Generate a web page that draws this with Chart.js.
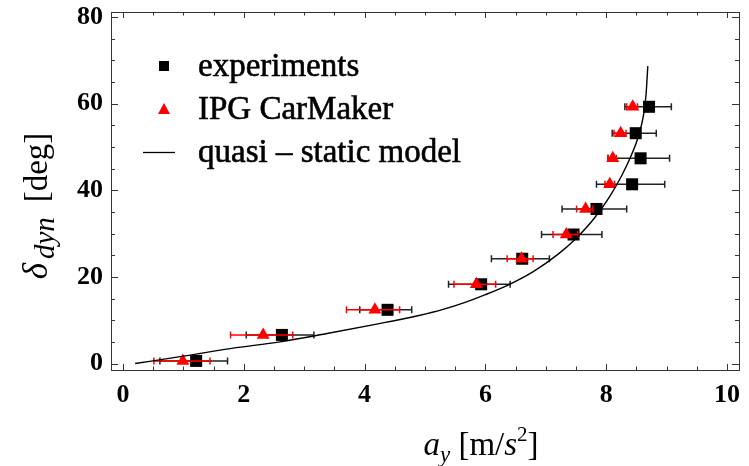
<!doctype html>
<html lang="en">
<head>
<meta charset="utf-8">
<title>Steering angle vs lateral acceleration</title>
<style>
  *{margin:0;padding:0;box-sizing:border-box}
  html,body{width:749px;height:466px;background:#fff;overflow:hidden}
</style>
</head>
<body>
<canvas id="chart" width="749" height="466"></canvas>
<script src="https://cdn.jsdelivr.net/npm/chart.js"></script>
<script>
// steering angle levels (deg), shared by both measured series
const deltaY = [0.6, 6.6, 12.4, 18.3, 24.2, 29.8, 35.7, 41.4, 47.4, 53.2, 59.3];

// experiments: a_y and its horizontal spread
const expX  = [1.21, 2.63, 4.38, 5.93, 6.61, 7.46, 7.84, 8.43, 8.57, 8.49, 8.71];
const expLo = [0.61, 2.04, 3.92, 5.39, 6.10, 6.93, 7.27, 7.84, 8.03, 8.10, 8.31];
const expHi = [1.73, 3.16, 4.78, 6.41, 7.06, 7.93, 8.34, 8.97, 9.05, 8.83, 9.08];

// IPG CarMaker
const ipgX  = [0.99, 2.32, 4.17, 5.85, 6.60, 7.34, 7.66, 8.06, 8.11, 8.24, 8.44];
const ipgLo = [0.51, 1.78, 3.70, 5.48, 6.36, 7.12, 7.51, 7.98, 8.03, 8.13, 8.34];
const ipgHi = [1.44, 2.81, 4.58, 6.17, 6.79, 7.53, 7.78, 8.14, 8.17, 8.33, 8.52];

// quasi-static model curve
const modelX = [0.2, 1.0, 1.8, 2.6, 3.4, 4.2, 4.9, 5.3, 5.7, 6.0, 6.4, 6.8, 7.2, 7.5, 7.8, 8.05, 8.25, 8.42, 8.55, 8.62, 8.66, 8.69];
const modelY = [0.0, 1.7, 3.5, 5.0, 7.0, 9.1, 11.1, 12.5, 14.3, 15.9, 18.3, 21.3, 25.2, 28.9, 33.5, 38.4, 43.2, 48.2, 53.2, 57.5, 62.0, 68.7];

const xTicks = [0, 2, 4, 6, 8, 10];
const yTicks = [0, 20, 40, 60, 80];

const SERIF = "'Liberation Serif','DejaVu Serif',serif";
const RED = '#ff0000';

const pts = (xs, ys) => xs.map((x, i) => ({x, y: ys[i]}));

// horizontal error bars, drawn just before the dataset they belong to
const errBars = {
  id: 'errBars',
  beforeDatasetDraw(c, args) {
    const ds = c.data.datasets[args.index];
    if (!ds._lo) return;
    const {ctx, scales: {x, y}} = c;
    ctx.save();
    ctx.strokeStyle = ds._barColor; ctx.lineWidth = 1.5;
    ds._lo.forEach((lo, i) => {
      const py = y.getPixelForValue(deltaY[i]);
      const x0 = x.getPixelForValue(lo), x1 = x.getPixelForValue(ds._hi[i]);
      ctx.beginPath();
      ctx.moveTo(x0, py); ctx.lineTo(x1, py);
      ctx.moveTo(x0, py - 3.5); ctx.lineTo(x0, py + 3.5);
      ctx.moveTo(x1, py - 3.5); ctx.lineTo(x1, py + 3.5);
      ctx.stroke();
    });
    ctx.restore();
  }
};

// rich text helper: segments with italic / size / baseline shift
function rich(ctx, segs, cx, by) {
  const font = s => `${s.it ? 'italic ' : ''}${s.size}px ${SERIF}`;
  let w = 0;
  segs.forEach(s => { ctx.font = font(s); w += ctx.measureText(s.t).width; });
  let px = cx - w / 2;
  ctx.textBaseline = 'alphabetic'; ctx.textAlign = 'left';
  segs.forEach(s => { ctx.font = font(s); ctx.fillText(s.t, px, by + (s.dy || 0)); px += ctx.measureText(s.t).width; });
}

// frame with inward ticks on all sides, axis titles and legend
const frame = {
  id: 'frame',
  afterDraw(c) {
    const {ctx, chartArea: a, scales: {x, y}} = c;
    ctx.save();
    ctx.strokeStyle = '#333'; ctx.lineWidth = 1;
    ctx.strokeRect(a.left + 0.5, a.top + 0.5, a.right - a.left, a.bottom - a.top);
    ctx.beginPath();
    for (let v = 0; v <= 10.001; v += 0.5) {
      const px = Math.round(x.getPixelForValue(v)) + 0.5;
      const len = Math.abs(v % 2) < 1e-6 ? 6 : 3.5;
      ctx.moveTo(px, a.bottom); ctx.lineTo(px, a.bottom - len);
      ctx.moveTo(px, a.top); ctx.lineTo(px, a.top + len);
    }
    for (let v = 0; v <= 80.001; v += 5) {
      const py = Math.round(y.getPixelForValue(v)) + 0.5;
      const len = v % 20 === 0 ? 7 : 4;
      ctx.moveTo(a.left, py); ctx.lineTo(a.left + len, py);
      ctx.moveTo(a.right, py); ctx.lineTo(a.right - len, py);
    }
    ctx.stroke();

    // axis titles
    ctx.fillStyle = '#000';
    rich(ctx, [
      {t: 'a', it: 1, size: 33},
      {t: 'y', it: 1, size: 23, dy: 7},
      {t: ' [m/', size: 33},
      {t: 's', it: 1, size: 33},
      {t: '2', size: 21, dy: -14},
      {t: ']', size: 33}
    ], 481, 455);
    ctx.save();
    ctx.translate(47, 206); ctx.rotate(-Math.PI / 2);
    rich(ctx, [
      {t: 'δ', it: 1, size: 35},
      {t: '\u2009', size: 20},
      {t: 'dyn', it: 1, size: 29, dy: 7},
      {t: '\u2009 [deg]', size: 33}
    ], 0, 0);
    ctx.restore();

    // legend
    const rows = [66, 109, 152];
    ctx.font = `33px ${SERIF}`;
    ctx.textBaseline = 'middle';
    c.data.datasets.slice().reverse().forEach((ds, i) => {
      const ly = rows[i];
      if (ds._legend === 'rect') {
        ctx.fillStyle = '#000'; ctx.fillRect(159, ly - 5, 10, 10);
      } else if (ds._legend === 'tri') {
        ctx.fillStyle = RED; ctx.beginPath();
        ctx.moveTo(164, ly - 6); ctx.lineTo(170, ly + 5); ctx.lineTo(158, ly + 5); ctx.closePath(); ctx.fill();
      } else {
        ctx.strokeStyle = '#000'; ctx.lineWidth = 1.3; ctx.beginPath();
        ctx.moveTo(143, ly + 0.5); ctx.lineTo(175, ly + 0.5); ctx.stroke();
      }
      ctx.fillStyle = '#000'; ctx.strokeStyle = '#000'; ctx.lineWidth = 0.6;
      ctx.fillText(ds.label, 198, ly + 1);
      ctx.strokeText(ds.label, 198, ly + 1);
    });
    ctx.restore();
  }
};

const tickFont = {family: SERIF, size: 26, weight: 'bold'};

new Chart(document.getElementById('chart'), {
  type: 'scatter',
  data: {
    datasets: [
      { // drawn last (on top)
        label: 'quasi – static model', type: 'line', _legend: 'line',
        data: pts(modelX, modelY), borderColor: '#000', borderWidth: 1.4,
        pointRadius: 0, fill: false, cubicInterpolationMode: 'monotone', order: 0
      },
      {
        label: 'IPG CarMaker', _legend: 'tri', _lo: ipgLo, _hi: ipgHi, _barColor: RED,
        data: pts(ipgX, deltaY), pointStyle: 'triangle', pointRadius: 7.5,
        backgroundColor: RED, borderColor: RED, borderWidth: 0, order: 1
      },
      {
        label: 'experiments', _legend: 'rect', _lo: expLo, _hi: expHi, _barColor: '#222',
        data: pts(expX, deltaY), pointStyle: 'rect', pointRadius: 8.5,
        backgroundColor: '#000', borderColor: '#000', borderWidth: 0, order: 2
      }
    ]
  },
  options: {
    responsive: false, animation: false,
    layout: {padding: {top: 12, right: 10, left: 0, bottom: 0}},
    plugins: {legend: {display: false}, tooltip: {enabled: false}},
    scales: {
      x: {
        type: 'linear', min: -0.2, max: 10.2,
        afterBuildTicks(s) { s.ticks = xTicks.map(v => ({value: v})); },
        afterFit(s) { s.height = 96; s.paddingLeft = 0; s.paddingRight = 0; },
        ticks: {font: tickFont, color: '#000', padding: 10, maxRotation: 0, autoSkip: false},
        grid: {display: false, drawTicks: false}, border: {display: false}
      },
      y: {
        type: 'linear', min: -1.5, max: 81.2,
        afterBuildTicks(s) { s.ticks = yTicks.map(v => ({value: v})); },
        afterFit(s) { s.width = 111; s.paddingTop = 0; s.paddingBottom = 0; },
        ticks: {font: tickFont, color: '#000', padding: 8, autoSkip: false},
        grid: {display: false, drawTicks: false}, border: {display: false}
      }
    }
  },
  plugins: [errBars, frame]
});
</script>
</body>
</html>
